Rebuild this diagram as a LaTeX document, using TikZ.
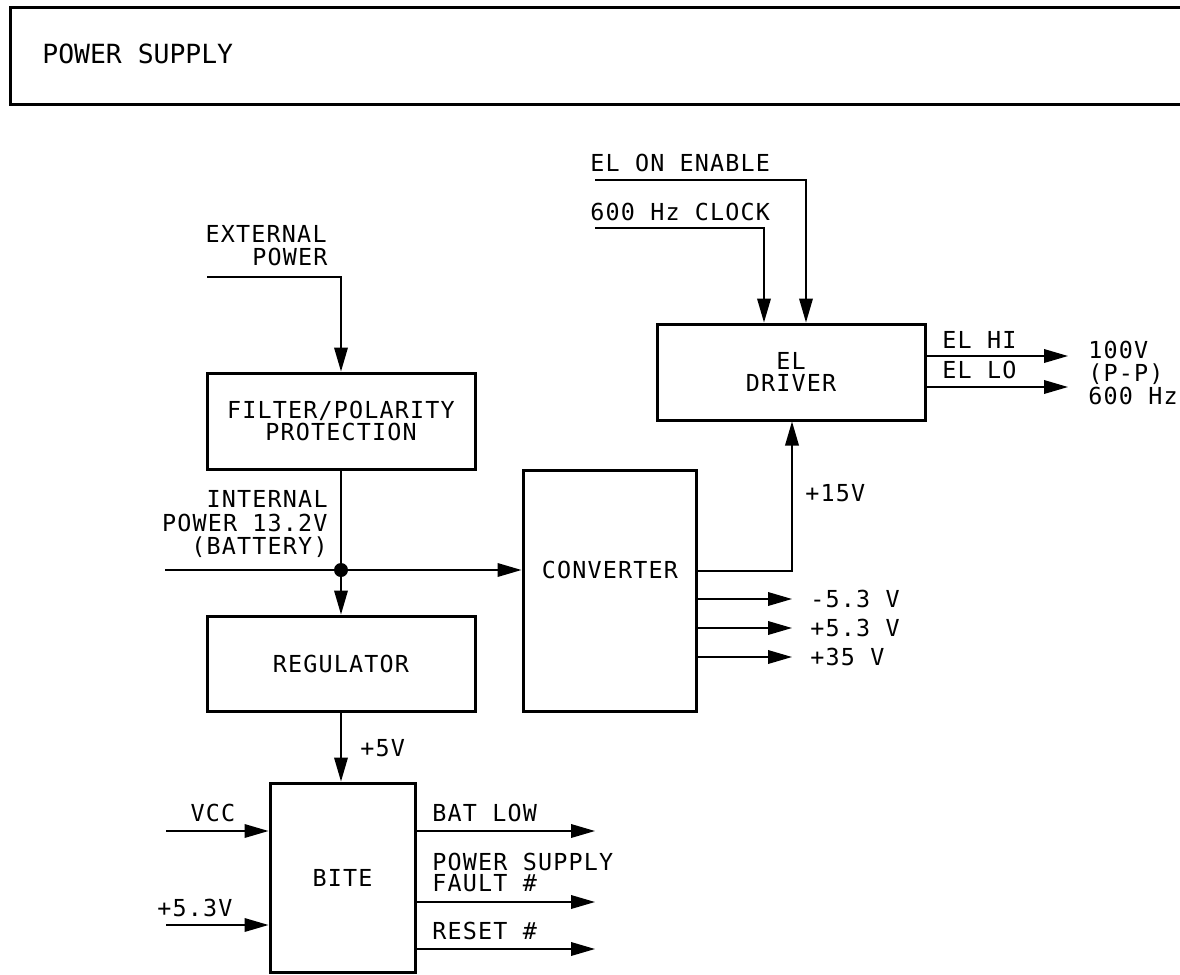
\documentclass[tikz,border=0pt]{standalone}
\usepackage{fontspec}
\usetikzlibrary{arrows.meta,calc}
\newfontfamily\diagfont[LetterSpace=5]{DejaVu Sans Mono}
\newfontfamily\titlefont{DejaVu Sans Mono}
\begin{document}
\begin{tikzpicture}[x=0.5pt,y=-0.5pt,
  block/.style={draw,line width=1.5pt,inner sep=0pt,align=center,font=\diagfont\fontsize{11.7}{10.8}\selectfont},
  lbl/.style={inner sep=0pt,font=\diagfont\fontsize{11.7}{10.5}\selectfont},
  wire/.style={line width=0.8pt},
  arr/.style={wire,-{Triangle[length=12pt,width=6.8pt]}},
  jdot/.style={circle,fill=black,inner sep=0pt,minimum size=7pt}]
\useasboundingbox (0,0) rectangle (1180,975);

% title frame
\coordinate (tl) at (10,7);
\coordinate (tr) at (1180,7);
\coordinate (bl) at (10,104);
\coordinate (br) at (1180,104);
\draw[line width=1.5pt] (tr) -- (tl) -- (bl) -- (br);
\node[inner sep=0pt,anchor=base west,font=\titlefont\fontsize{13.2}{15}\selectfont] (title) at (42,63) {POWER SUPPLY};

% blocks
\node[block,minimum width=134pt,minimum height=48pt] (filter) at (341,421) {FILTER/POLARITY\\PROTECTION};
\node[block,minimum width=134pt,minimum height=47.5pt] (reg) at (341,663.5) {REGULATOR};
\node[block,minimum width=72.5pt,minimum height=94.5pt] (bite) at (342.5,877.5) {BITE};
\node[block,minimum width=86.5pt,minimum height=120.5pt] (conv) at (609.5,590.5) {};
\node[lbl] (convtxt) at (610,570) {CONVERTER};
\node[block,minimum width=134pt,minimum height=48pt] (eld) at (791,372) {EL\\DRIVER};

% external power
\node[lbl,anchor=base east] (ext1) at (327,242) {EXTERNAL};
\node[lbl,anchor=base east] (ext2) at (328,265) {POWER};
\coordinate (extin) at (207,277);
\draw[arr] (extin) -- (341,277) -- (filter.north);

% internal power & junction
\node[lbl,anchor=base east] (int1) at (328,507) {INTERNAL};
\node[lbl,anchor=base east] (int2) at (328,531) {POWER 13.2V};
\node[lbl,anchor=base east] (int3) at (328,554) {(BATTERY)};
\node[jdot] (junc) at (341,570) {};
\coordinate (battin) at (165,570);
\draw[wire] (filter.south) -- (junc.center);
\draw[arr] (junc.center) -- (reg.north);
\draw[arr] (battin) -- (junc.center) -- (junc.center -| conv.west);

% regulator to bite
\draw[arr] (reg.south) -- (reg.south |- bite.north);
\node[lbl,anchor=base west] (p5v) at (360,756.5) {+5V};

% bite inputs
\coordinate (vccin) at (166,831);
\coordinate (p53in) at (166,925);
\node[lbl,anchor=base] (vcc) at (213,821.5) {VCC};
\node[lbl,anchor=base west] (p53) at (157,916.5) {+5.3V};
\draw[arr] (vccin) -- (vccin -| bite.west);
\draw[arr] (p53in) -- (p53in -| bite.west);

% bite outputs
\coordinate (batout) at (595,831);
\coordinate (psfout) at (595,902);
\coordinate (rstout) at (595,949);
\draw[arr] (batout -| bite.east) -- (batout);
\draw[arr] (psfout -| bite.east) -- (psfout);
\draw[arr] (rstout -| bite.east) -- (rstout);
\node[lbl,anchor=base west] (batlow) at (432,821.5) {BAT LOW};
\node[lbl,anchor=base west] (psf1) at (432,870.5) {POWER SUPPLY};
\node[lbl,anchor=base west] (psf2) at (432,891.5) {FAULT \#};
\node[lbl,anchor=base west] (rst) at (432,939.5) {RESET \#};

% converter outputs
\coordinate (o1) at (792,599);
\coordinate (o2) at (792,628);
\coordinate (o3) at (792,657);
\draw[arr] (o1 -| conv.east) -- (o1);
\draw[arr] (o2 -| conv.east) -- (o2);
\draw[arr] (o3 -| conv.east) -- (o3);
\node[lbl,anchor=base west] (v1) at (810,607.5) {-5.3 V};
\node[lbl,anchor=base west] (v2) at (810,636.5) {+5.3 V};
\node[lbl,anchor=base west] (v3) at (810,665.5) {+35 V};

% +15V to EL driver
\coordinate (c15) at (792,571);
\draw[arr] (c15 -| conv.east) -- (c15) -- (c15 |- eld.south);
\node[lbl,anchor=base west] (p15) at (805,501) {+15V};

% EL driver inputs
\node[lbl,anchor=base west] (elon) at (590,171.5) {EL ON ENABLE};
\node[lbl,anchor=base west] (clk) at (590,220.5) {600 Hz CLOCK};
\coordinate (elonin) at (595,180);
\coordinate (clkin) at (595,228);
\draw[arr] (elonin) -- (806,180) -- (806,180 |- eld.north);
\draw[arr] (clkin) -- (764,228) -- (764,228 |- eld.north);

% EL driver outputs
\coordinate (hiout) at (1068,356);
\coordinate (loout) at (1068,387);
\draw[arr] (hiout -| eld.east) -- (hiout);
\draw[arr] (loout -| eld.east) -- (loout);
\node[lbl,anchor=base west] (elhi) at (942,348) {EL HI};
\node[lbl,anchor=base west] (ello) at (942,378.5) {EL LO};
\node[lbl,anchor=base west] (out1) at (1088,358) {100V};
\node[lbl,anchor=base west] (out2) at (1088,381) {(P-P)};
\node[lbl,anchor=base west] (out3) at (1088,404) {600 Hz};
\end{tikzpicture}
\end{document}
